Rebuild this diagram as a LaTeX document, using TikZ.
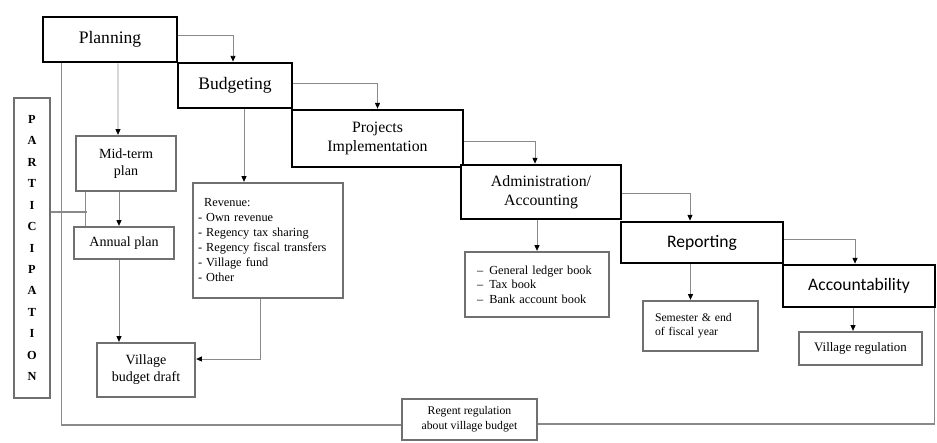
\documentclass[tikz,border=0pt]{standalone}
\usepackage{fontspec}
\setmainfont{Liberation Serif}
\newfontfamily\calibrifont{Carlito}
\usetikzlibrary{arrows.meta}
\definecolor{linegray}{HTML}{8A8A8A}
\definecolor{boxgray}{HTML}{707070}
\tikzset{
  stage/.style={
    draw=black,
    line width=2.4pt,
    fill=white,
    align=center,
    inner sep=2pt,
    font=\fontsize{13.5}{16}\selectfont
  },
  note/.style={
    draw=boxgray,
    line width=2pt,
    fill=white,
    align=center,
    inner sep=2pt,
    font=\fontsize{12}{14.5}\selectfont
  },
  small/.style={
    note,
    font=\fontsize{10.5}{12.5}\selectfont
  },
  flow/.style={
    -{Triangle[length=1.7mm,width=1.5mm,color=black]},
    draw=linegray,
    line width=0.7pt
  },
  link/.style={
    draw=linegray,
    line width=0.9pt
  }
}

\begin{document}
\begin{tikzpicture}[x=0.03cm, y=-0.03cm]
  \useasboundingbox (0,0) rectangle (937,442);

  % main stages
  \node[stage, minimum width=4.02cm, minimum height=1.35cm, font=\fontsize{15}{18}\selectfont] (planning) at (110,39.5) {Planning};
  \node[stage, minimum width=3.42cm, minimum height=1.35cm, font=\fontsize{15}{18}\selectfont] (budgeting) at (235,85.5) {Budgeting};
  \node[stage, minimum width=5.13cm, minimum height=1.71cm] (projects) at (377.5,138.5) {Projects\\Implementation};
  \node[stage, minimum width=4.8cm, minimum height=1.62cm] (admin) at (541,192) {Administration/\\Accounting};
  \node[stage, minimum width=4.86cm, minimum height=1.23cm, font=\calibrifont\fontsize{15}{18}\selectfont] (reporting) at (702,242.5) {Reporting};
  \node[stage, minimum width=4.56cm, minimum height=1.26cm, font=\calibrifont\fontsize{15}{18}\selectfont] (account) at (859,286) {Accountability};

  % outputs
  \node[note, minimum width=1.08cm, minimum height=9cm, font=\bfseries\fontsize{10.5}{18.3}\selectfont] (participation) at (32,248)
    {P\\A\\R\\T\\I\\C\\I\\P\\A\\T\\I\\O\\N};
  \node[note, minimum width=3cm, minimum height=1.65cm] (midterm) at (126,163.5) {Mid-term\\plan};
  \node[note, minimum width=3cm, minimum height=0.96cm] (annual) at (124,243) {Annual plan};
  \node[note, minimum width=2.94cm, minimum height=1.62cm] (draft) at (146,370) {Village\\budget draft};
  \node[small, font=\fontsize{10.5}{12.8}\selectfont, align=left, text width=4.2cm, inner xsep=0.15cm, minimum height=3.45cm] (revenue) at (268,240.5)
    {\hspace{0.5em}Revenue:\\- Own revenue\\- Regency tax sharing\\- Regency fiscal transfers\\- Village fund\\- Other};
  \node[small, align=left, text width=3.6cm, inner xsep=0.36cm, minimum height=1.95cm] (ledger) at (537,284.5)
    {--\enspace General ledger book\\--\enspace Tax book\\--\enspace Bank account book};
  \node[small, font=\fontsize{10}{12}\selectfont, align=left, text width=2.73cm, inner xsep=0.36cm, minimum height=1.5cm] (semester) at (700.5,326)
    {Semester \& end\\of fiscal year};
  \node[small, font=\fontsize{11}{13}\selectfont, minimum width=3.69cm, minimum height=0.99cm] (villreg) at (860.5,348.5) {Village regulation};
  \node[small, font=\fontsize{10}{12.5}\selectfont, minimum width=4.05cm, minimum height=1.23cm] (regent) at (469.5,419.5) {Regent regulation\\about village budget};

  % stage to stage
  \draw[flow] ([yshift=0.135cm]planning.east) -| ([xshift=-0.06cm]budgeting.north);
  \draw[flow] ([yshift=0.06cm]budgeting.east) -| (projects.north);
  \draw[flow] ([yshift=-0.075cm]projects.east) -| ([xshift=-0.18cm]admin.north);
  \draw[flow] ([yshift=-0.045cm]admin.east) -| ([xshift=-0.36cm]reporting.north);
  \draw[flow] ([yshift=0.105cm]reporting.east) -| ([xshift=-0.12cm]account.north);

  % stage to output
  \draw[flow] ([xshift=0.24cm]planning.south) -- ([xshift=-0.24cm]midterm.north);
  \draw[flow] ([xshift=-0.21cm]midterm.south) -- ([xshift=-0.21cm]midterm.south |- annual.north);
  \draw[flow] ([xshift=-0.15cm]annual.south) -- ([xshift=-0.15cm]annual.south |- draft.north);
  \draw[flow] ([xshift=0.27cm]budgeting.south) -- ([xshift=0.27cm]budgeting.south |- revenue.north);
  \draw[flow] ([xshift=-0.24cm]revenue.south) |- ([yshift=0.33cm]draft.east);
  \draw[flow] (ledger.north |- admin.south) -- (ledger.north);
  \draw[flow] ([xshift=-0.3cm]semester.north |- reporting.south) -- ([xshift=-0.3cm]semester.north);
  \draw[flow] ([xshift=-0.225cm]villreg.north |- account.south) -- ([xshift=-0.225cm]villreg.north);

  % participation and regulation lines
  \coordinate (pjoin) at (87,212);
  \draw[link] (participation.east |- pjoin) -- (pjoin);
  \draw[link] ([xshift=0.33cm]midterm.south west) -- ([xshift=0.33cm]midterm.south west |- annual.north);
  \draw[link] ([xshift=0.6cm]planning.south west) |- ([yshift=-0.165cm]regent.west);
  \draw[link] ([yshift=-0.135cm]regent.east) -| ([xshift=-0.06cm]account.south east);
\end{tikzpicture}
\end{document}
